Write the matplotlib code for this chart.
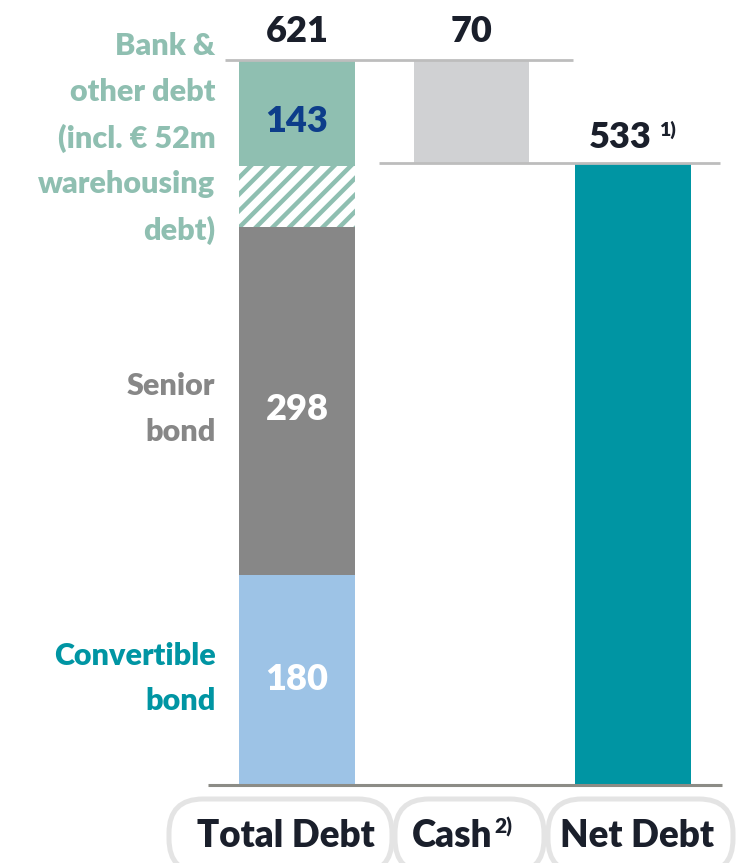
import matplotlib
matplotlib.use("Agg")
import matplotlib.pyplot as plt
from matplotlib.patches import FancyBboxPatch
from matplotlib.transforms import Affine2D

# ---------------- data ----------------
categories = ["Total Debt", "Cash", "Net Debt"]
category_notes = ["", "2)", ""]
convertible = 180
senior = 298
bank_total = 143
warehousing = 52
total_debt = 621
cash = 70
net_debt = 533
net_note = "1)"
segment_labels = ["Convertible\nbond", "Senior\nbond",
                  "Bank &\nother debt\n(incl. € 52m\nwarehousing\ndebt)"]

# ---------------- style ----------------
plt.rcParams['font.family'] = ['Lato', 'DejaVu Sans']
plt.rcParams['hatch.linewidth'] = 3.2
C_BANK = "#8fbfb1"
C_SENIOR = "#878787"
C_CONV = "#9dc3e6"
C_CASH = "#d0d1d3"
C_NET = "#0095a3"
C_TEXT = "#1a1f2b"
C_BLUE = "#0d3d8a"
C_LINE = "#bdbdbd"
FW = "heavy"

W, H = 736, 863
fig = plt.figure(figsize=(W / 100, H / 100), dpi=100)
ax = fig.add_axes([0, 0, 1, 1])
ax.axis("off")

px_per_x = 168.0
x0_px = 297.0
ax.set_xlim(-x0_px / px_per_x, (W - x0_px) / px_per_x)
base_px = 785.0
top_px = 60.0
ppu = (base_px - top_px) / total_debt
ax.set_ylim(-(H - base_px) / ppu, base_px / ppu)

xpos = [0.0, 1.04, 2.0]
bw = 0.685

bank_other = bank_total - warehousing
# total debt stack
ax.bar(xpos[0], convertible, bw, color=C_CONV, lw=0)
ax.bar(xpos[0], senior, bw, bottom=convertible, color=C_SENIOR, lw=0)
ax.bar(xpos[0], warehousing, bw, bottom=convertible + senior,
       facecolor="white", edgecolor=C_BANK, hatch="//", lw=0)
ax.bar(xpos[0], bank_other, bw, bottom=convertible + senior + warehousing,
       color=C_BANK, lw=0)
# cash (floating)
ax.bar(xpos[1], total_debt - net_debt, bw, bottom=net_debt, color=C_CASH, lw=0)
# net debt
ax.bar(xpos[2], net_debt, bw, color=C_NET, lw=0)

# connector & baseline lines
ax.plot([-0.43, 1.64], [total_debt, total_debt], color=C_LINE, lw=2, zorder=3,
        solid_capstyle="butt")
ax.plot([0.49, 2.52], [net_debt, net_debt], color=C_LINE, lw=2, zorder=3,
        solid_capstyle="butt")
ax.plot([-0.53, 2.53], [0, 0], color="#8c8c86", lw=2.2, zorder=3,
        solid_capstyle="butt")

# value labels
fs_val = 26
ax.annotate(str(total_debt), (xpos[0], total_debt), xytext=(0, 28),
            textcoords="offset pixels", ha="center", va="center",
            fontsize=fs_val, fontweight=FW, color=C_TEXT)
ax.annotate(str(cash), (xpos[1], total_debt), xytext=(0, 28),
            textcoords="offset pixels", ha="center", va="center",
            fontsize=fs_val, fontweight=FW, color=C_TEXT)
ax.annotate(str(net_debt), (xpos[2], net_debt), xytext=(-13, 25),
            textcoords="offset pixels", ha="center", va="center",
            fontsize=fs_val, fontweight=FW, color=C_TEXT)
ax.annotate(net_note, (xpos[2], net_debt), xytext=(26, 33),
            textcoords="offset pixels", ha="left", va="center",
            fontsize=14, fontweight=FW, color=C_TEXT)

senior_label_y = convertible + senior / 2 - 7
ax.text(xpos[0], convertible / 2, str(convertible), ha="center", va="center",
        fontsize=fs_val, fontweight=FW, color="white")
ax.text(xpos[0], senior_label_y, str(senior), ha="center", va="center",
        fontsize=fs_val, fontweight=FW, color="white")
ax.text(xpos[0], total_debt - 0.37 * bank_total, str(bank_total), ha="center",
        va="center", fontsize=fs_val, fontweight=FW, color=C_BLUE)

# left side segment labels
left_edge = xpos[0] - bw / 2
seg_centers = [convertible / 2 + 1, senior_label_y,
               convertible + senior + bank_total / 2 + 4]
seg_colors = [C_NET, C_SENIOR, C_BANK]
for lab, yc, col in zip(segment_labels, seg_centers, seg_colors):
    ax.annotate(lab, (left_edge, yc), xytext=(-24, 0),
                textcoords="offset pixels", ha="right", va="center",
                fontsize=22, fontweight=FW, color=col, linespacing=1.75)

# category pills at the bottom
pix = Affine2D().scale(1 / W, 1 / H) + fig.transFigure
boxes = [(169, 392), (395, 544), (548, 733)]
text_cx = [286, 452, 637]
for (xa, xb), cx, cat, note in zip(boxes, text_cx, categories, category_notes):
    r = 34
    p = FancyBboxPatch((xa + r, -10 + r), (xb - xa) - 2 * r, 74 - 2 * r,
                       boxstyle=f"round,pad={r},rounding_size={r}",
                       transform=pix, facecolor="white", edgecolor="#e4e4e4",
                       lw=3.6, zorder=5, clip_on=False)
    fig.add_artist(p)
    fig.text(cx / W, (H - 836) / H, cat, ha="center", va="center",
             fontsize=26.5, fontweight=FW, color=C_TEXT, zorder=6)
    if note:
        fig.text(494 / W, (H - 827) / H, note, ha="left", va="center",
                 fontsize=15, fontweight=FW, color=C_TEXT, zorder=6)

fig.savefig("out.png", dpi=100)
